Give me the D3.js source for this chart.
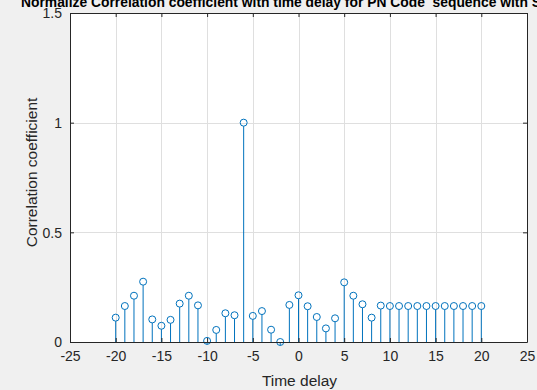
<!DOCTYPE html>
<html>
<head>
<meta charset="utf-8">
<script src="https://cdn.jsdelivr.net/npm/d3@7"></script>
<style>
  html, body { margin: 0; padding: 0; background: #f0f0f0; }
  svg { display: block; font-family: "Liberation Sans", Arial, Helvetica, sans-serif; }
</style>
</head>
<body>
<svg id="chart" width="537" height="390"></svg>
<script>
// Time delays (lags) and normalized correlation coefficient at each lag
const delays = [-20, -19, -18, -17, -16, -15, -14, -13, -12, -11, -10, -9, -8, -7, -6, -5, -4, -3, -2, -1,
                0, 1, 2, 3, 4, 5, 6, 7, 8, 9, 10, 11, 12, 13, 14, 15, 16, 17, 18, 19, 20];
const corr = [0.111, 0.164, 0.211, 0.275, 0.103, 0.074, 0.101, 0.175, 0.211, 0.167,
              0.005, 0.055, 0.131, 0.122, 1.000, 0.119, 0.141, 0.056, 0.000, 0.169,
              0.213, 0.163, 0.114, 0.062, 0.108, 0.272, 0.211, 0.172, 0.111, 0.166,
              0.164, 0.164, 0.164, 0.164, 0.164, 0.164, 0.164, 0.164, 0.164, 0.164, 0.164];
const xTicks = [-25, -20, -15, -10, -5, 0, 5, 10, 15, 20, 25];
const yTicks = [0, 0.5, 1, 1.5];
const titleText = "Normalize Correlation coefficient with time delay for PN Code  sequence with SNR";
const xLabelText = "Time delay";
const yLabelText = "Correlation coefficient";

const svg = d3.select("#chart");
const plotLeft = 70, plotRight = 527, plotTop = 13, plotBottom = 342;
const stemColor = "#0072bd";

const x = d3.scaleLinear().domain([-25, 25]).range([plotLeft, plotRight]);
const y = d3.scaleLinear().domain([0, 1.5]).range([plotBottom, plotTop]);

// Axes background
svg.append("rect")
  .attr("x", plotLeft).attr("y", plotTop)
  .attr("width", plotRight - plotLeft).attr("height", plotBottom - plotTop)
  .attr("fill", "#ffffff");

// Grid lines
const grid = svg.append("g").attr("stroke", "#dfdfdf").attr("stroke-width", 1);
grid.selectAll("line.gx").data(xTicks.slice(1, -1)).join("line")
  .attr("x1", d => Math.round(x(d)) + 0.5).attr("x2", d => Math.round(x(d)) + 0.5)
  .attr("y1", plotTop).attr("y2", plotBottom);
grid.selectAll("line.gy").data(yTicks.slice(1, -1)).join("line")
  .attr("y1", d => Math.round(y(d)) + 0.5).attr("y2", d => Math.round(y(d)) + 0.5)
  .attr("x1", plotLeft).attr("x2", plotRight);

// Stems and circle markers
const stems = svg.append("g");
const pts = delays.map((d, i) => ({ d, v: corr[i] }));
stems.selectAll("line").data(pts).join("line")
  .attr("x1", p => x(p.d)).attr("x2", p => x(p.d))
  .attr("y1", y(0)).attr("y2", p => y(p.v) + 3.5)
  .attr("stroke", stemColor).attr("stroke-width", 1);
stems.selectAll("circle").data(pts).join("circle")
  .attr("cx", p => x(p.d)).attr("cy", p => y(p.v))
  .attr("r", 3.5)
  .attr("fill", "none")
  .attr("stroke", stemColor).attr("stroke-width", 1);

// Axes (box with inward ticks), plain hyphen for negative labels
const axisColor = "#262626";
const plain = d => String(d);
const xb = svg.append("g").attr("transform", `translate(0,${plotBottom})`)
  .call(d3.axisBottom(x).tickValues(xTicks).tickSizeInner(-4).tickSizeOuter(0).tickPadding(9).tickFormat(plain));
const xt = svg.append("g").attr("transform", `translate(0,${plotTop})`)
  .call(d3.axisTop(x).tickValues(xTicks).tickSizeInner(-4).tickSizeOuter(0).tickFormat(""));
const yl = svg.append("g").attr("transform", `translate(${plotLeft},0)`)
  .call(d3.axisLeft(y).tickValues(yTicks).tickSizeInner(-4).tickSizeOuter(0).tickPadding(8).tickFormat(plain));
const yr = svg.append("g").attr("transform", `translate(${plotRight},0)`)
  .call(d3.axisRight(y).tickValues(yTicks).tickSizeInner(-4).tickSizeOuter(0).tickFormat(""));

[xb, xt, yl, yr].forEach(g => {
  g.select(".domain").attr("stroke", axisColor).attr("stroke-width", 1);
  g.selectAll(".tick line").attr("stroke", axisColor);
  g.selectAll(".tick text")
    .attr("fill", "#262626")
    .style("font-size", "14px")
    .style("font-family", "'Liberation Sans', Arial, sans-serif");
});
xb.selectAll(".tick text").attr("dy", "0.71em");
yl.selectAll(".tick text").attr("dy", "0.35em");

// Title (keeps its double space)
svg.append("text")
  .attr("x", 21).attr("y", 6.5)
  .attr("text-anchor", "start")
  .attr("font-weight", "bold")
  .attr("font-size", 13.85)
  .attr("fill", "#000000")
  .style("white-space", "pre")
  .text(titleText);

// Axis labels
svg.append("text")
  .attr("x", (plotLeft + plotRight) / 2 + 1).attr("y", 385.5)
  .attr("text-anchor", "middle")
  .attr("font-size", 15.5)
  .attr("fill", "#262626")
  .text(xLabelText);

svg.append("text")
  .attr("transform", `translate(36.5,172.5) rotate(-90)`)
  .attr("text-anchor", "middle")
  .attr("font-size", 15.5)
  .attr("fill", "#262626")
  .text(yLabelText);
</script>
</body>
</html>
